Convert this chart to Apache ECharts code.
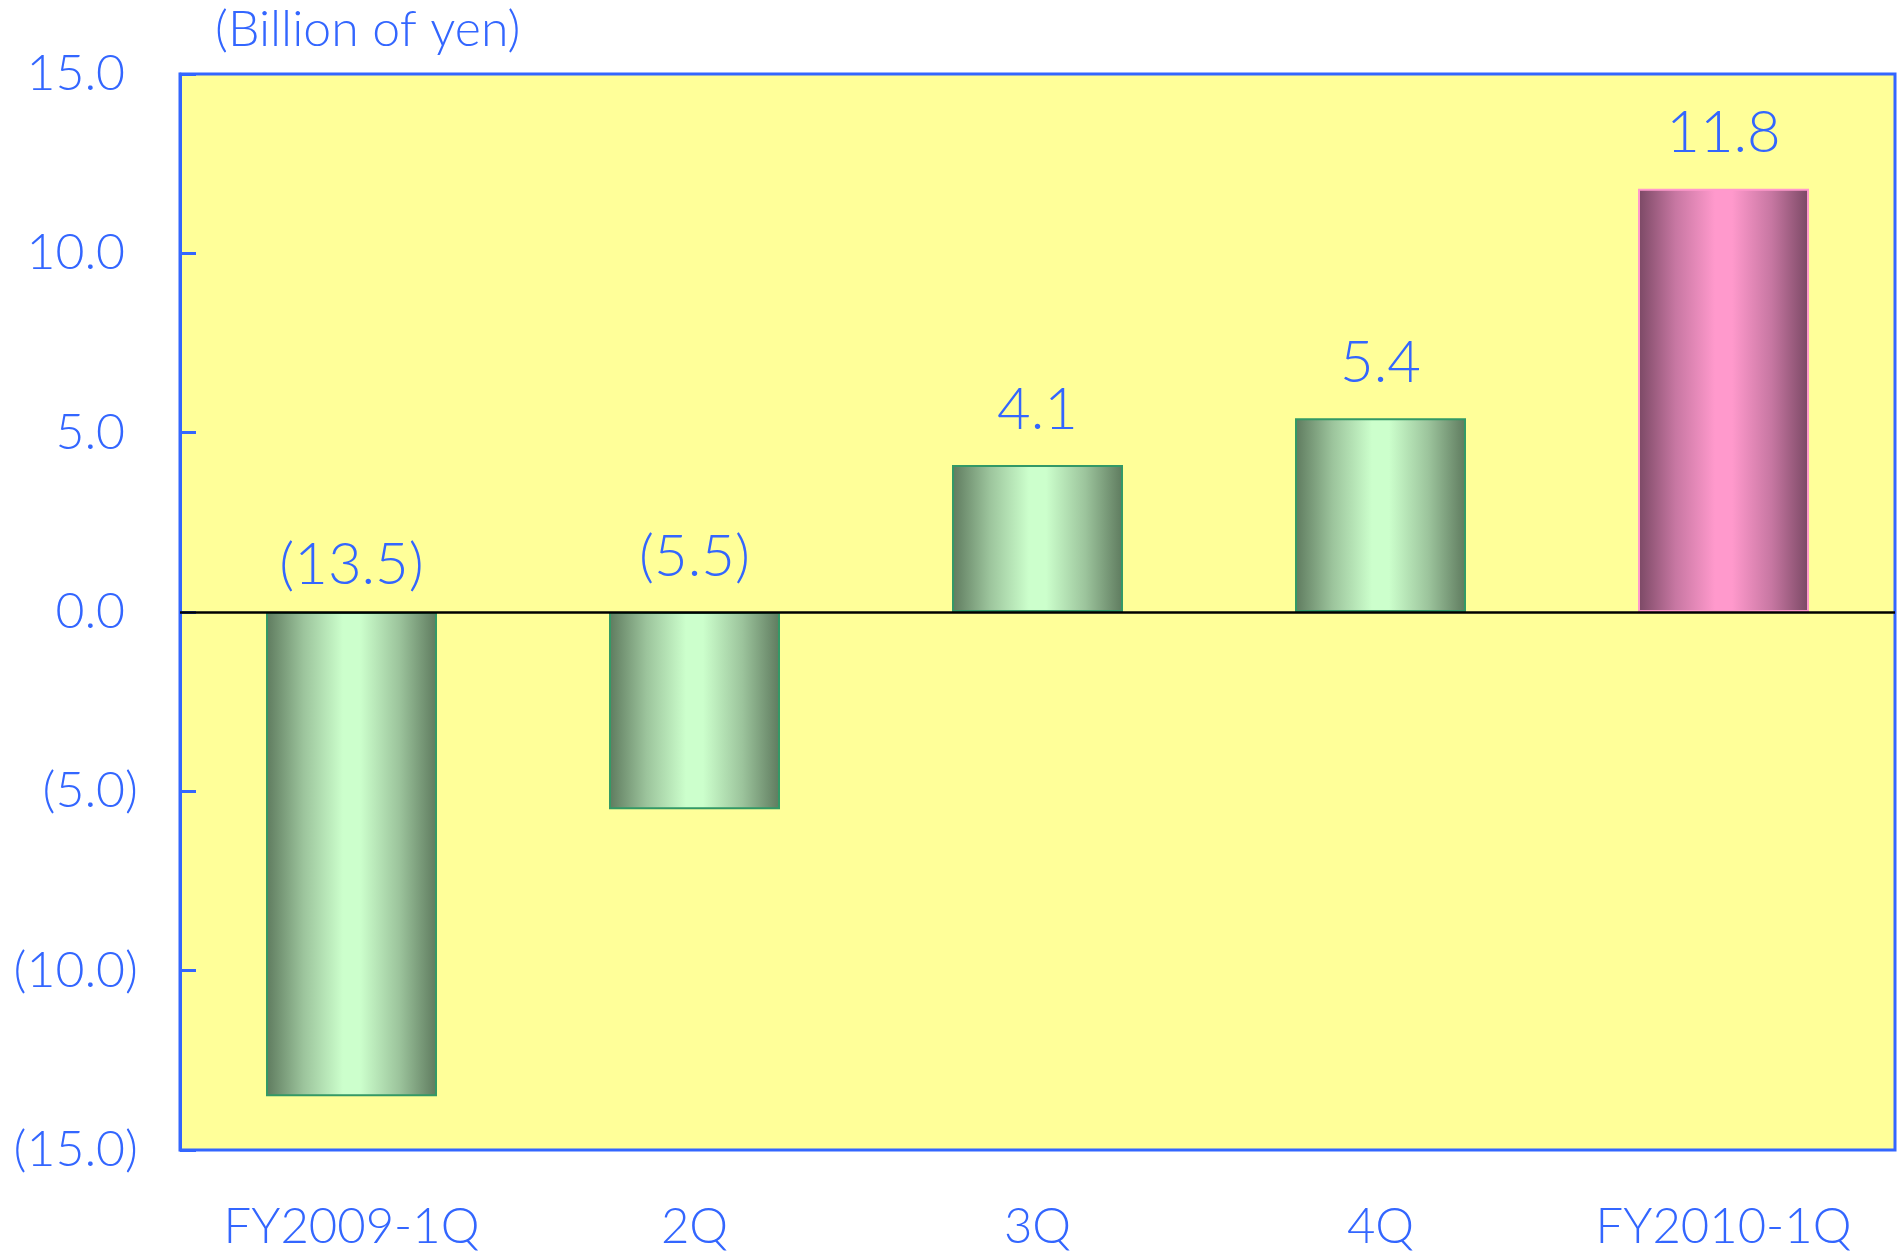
<!DOCTYPE html>
<html>
<head>
<meta charset="utf-8">
<title>Quarterly result</title>
<script src="https://cdn.jsdelivr.net/npm/echarts@6/dist/echarts.min.js"></script>
<style>
  html, body { margin: 0; padding: 0; background: #ffffff; }
  #main { width: 1898px; height: 1256px; }
</style>
</head>
<body>
<div id="main"></div>
<script>
// data
let categories = ['FY2009-1Q', '2Q', '3Q', '4Q', 'FY2010-1Q'];
let values = [-13.5, -5.5, 4.1, 5.4, 11.8];
let yTicks = [-15, -10, -5, 0, 5, 10, 15];
let unitText = '(Billion of yen)';

let blue = '#3366ff';
let font = 'Lato';
let weight = 300;

function fmt(v) {
    let s = Math.abs(v).toFixed(1);
    return v < 0 ? '(' + s + ')' : s;
}

function barColor(dark, mid, light) {
    return new echarts.graphic.LinearGradient(0, 0, 1, 0, [
        { offset: 0, color: dark },
        { offset: 0.22, color: mid },
        { offset: 0.45, color: light },
        { offset: 0.55, color: light },
        { offset: 0.78, color: mid },
        { offset: 1, color: dark }
    ]);
}

let greenFill = barColor('#5e7a5e', '#9cc49c', '#ccffcc');
let pinkFill = barColor('#7a4864', '#c777a2', '#ff99cc');

let barData = values.map(function (v, i) {
    let last = i === values.length - 1;
    return {
        value: v,
        itemStyle: {
            color: last ? pinkFill : greenFill,
            borderColor: last ? '#ff99cc' : '#339966',
            borderWidth: 2
        },
        label: { distance: v < -10 ? 18 : 26 }
    };
});

let myChart = echarts.init(document.getElementById('main'));

let option = {
    animation: false,
    textStyle: { fontFamily: font, fontWeight: weight },
    title: {
        text: unitText,
        left: 210,
        top: 0,
        textStyle: { color: blue, fontSize: 50, fontWeight: weight, fontFamily: font }
    },
    grid: {
        left: 180,
        right: 3,
        top: 74,
        bottom: 106,
        show: true,
        backgroundColor: '#ffff99',
        borderColor: blue,
        borderWidth: 3
    },
    xAxis: {
        type: 'category',
        data: categories,
        axisLine: { show: false, onZero: false },
        axisTick: { show: false },
        axisLabel: { color: blue, fontSize: 49, fontWeight: weight, margin: 53, fontFamily: font }
    },
    yAxis: {
        type: 'value',
        min: yTicks[0],
        max: yTicks[yTicks.length - 1],
        interval: 5,
        splitLine: { show: false },
        axisLine: { show: true, lineStyle: { color: blue, width: 3 } },
        axisTick: { show: true, inside: true, length: 16, lineStyle: { color: blue, width: 3 } },
        axisLabel: {
            color: blue,
            fontSize: 50,
            fontWeight: weight,
            margin: 42,
            fontFamily: font,
            formatter: function (v) {
                return v < 0 ? fmt(v) : fmt(v) + '{h|)}';
            },
            rich: { h: { color: 'rgba(0,0,0,0)', fontSize: 50, fontWeight: weight, fontFamily: font } }
        }
    },
    series: [{
        type: 'bar',
        data: barData,
        barWidth: 171,
        label: {
            show: true,
            position: 'top',
            color: blue,
            fontSize: 58,
            fontWeight: weight,
            fontFamily: font,
            formatter: function (p) { return fmt(p.value); }
        },
        markLine: {
            silent: true,
            symbol: 'none',
            label: { show: false },
            lineStyle: { color: '#000000', width: 2.5, type: 'solid' },
            data: [{ yAxis: 0 }]
        }
    }]
};

myChart.setOption(option);
</script>
</body>
</html>
